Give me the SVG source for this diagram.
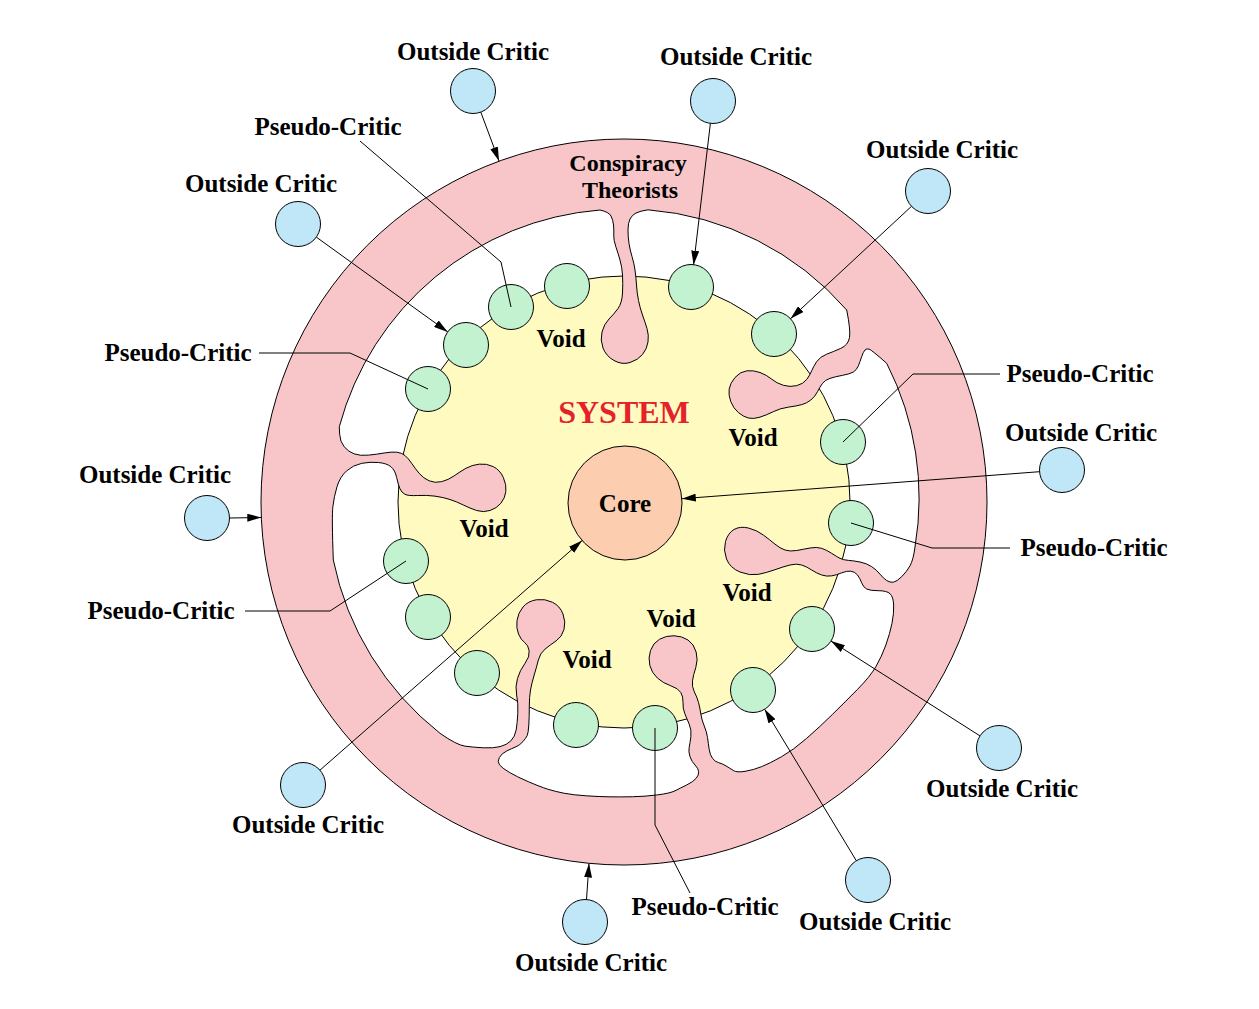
<svg xmlns="http://www.w3.org/2000/svg" width="1259" height="1009" viewBox="0 0 1259 1009">
<style>
.t{font-family:"Liberation Serif","Times New Roman",serif;font-weight:bold;font-size:25px;fill:#000;text-anchor:middle}
.g{fill:#c3f2d1;stroke:#000;stroke-width:1}
.b{fill:#c0e7f8;stroke:#000;stroke-width:1}
.ln{fill:none;stroke:#000;stroke-width:1}
.ar{fill:none;stroke:#000;stroke-width:1;marker-end:url(#ah)}
</style>
<defs>
<marker id="ah" markerUnits="userSpaceOnUse" markerWidth="14" markerHeight="8" refX="14" refY="4" orient="auto"><path d="M0,0 L14,4 L0,8 Z" fill="#000"/></marker>
</defs>
<rect width="1259" height="1009" fill="#fff"/>
<g id="system">
<circle cx="624" cy="502" r="226" fill="#fffbc0" stroke="#000" stroke-width="1"/>
</g>
<g id="conspiracy-theorists">
<path fill="#f8c6c8" fill-rule="evenodd" stroke="#000" stroke-width="1" d="M261,502 A363,363 0 1 0 987,502 A363,363 0 1 0 261,502 Z
M648,209.8 A294,294 0 0 1 846.7,310
Q850.7,330 849.5,337.5 Q848.3,345 840.8,348.35 Q833.3,351.7 826.65,354.2 Q820,356.7 816.65,361.7 Q813.3,366.7 811.65,370.85 Q810,375 806.65,379.5 Q803.3,384 796.65,385.65 Q790,387.3 783.35,385.3 Q776.7,383.3 771.7,379.15 Q766.7,375 760,372.5 Q753.3,370 746.65,370.85 Q740,371.7 735,377.5 Q730,383.3 729.15,389.15 Q728.3,395 730.8,401.65 Q733.3,408.3 738.3,412.5 Q743.3,416.7 748.3,418 Q753.3,419.3 760,417.15 Q766.7,415 773.35,411.65 Q780,408.3 788.35,407.15 Q796.7,406 801.7,404.65 Q806.7,403.3 810.85,400 Q815,396.7 817.5,391.7 Q820,386.7 822.5,383.35 Q825,380 830,378.35 Q835,376.7 842.5,375.35 Q850,374 853.35,372 Q856.7,370 858.35,365.85 Q860,361.7 861.65,356.7 Q863.3,351.7 865,350 Q866.7,348.3 869.2,349.15 Q871.7,350 886.7,363.3
A296,296 0 0 1 915,547
Q913.3,560 910,565.85 Q906.7,571.7 901.7,576.7 Q896.7,581.7 893.35,582.2 Q890,582.7 886.65,580.5 Q883.3,578.3 880,574.15 Q876.7,570 871.7,566.65 Q866.7,563.3 860,562 Q853.3,560.7 848.3,560.35 Q843.3,560 840,558.35 Q836.7,556.7 831.7,553.35 Q826.7,550 821.7,548.35 Q816.7,546.7 810,548 Q803.3,549.3 796.65,550.5 Q790,551.7 785,550 Q780,548.3 775,544.15 Q770,540 763.35,535 Q756.7,530 748.35,528 Q740,526 734,529.5 Q728,533 725.5,541.5 Q723,550 726.5,559 Q730,568 740,572 Q750,576 758.35,574.35 Q766.7,572.7 775,569.7 Q783.3,566.7 790,565 Q796.7,563.3 801.7,565 Q806.7,566.7 811.7,570 Q816.7,573.3 821.7,575 Q826.7,576.7 831.7,575.85 Q836.7,575 841.7,572.85 Q846.7,570.7 850.85,571.2 Q855,571.7 857.5,575 Q860,578.3 861.65,582.8 Q863.3,587.3 866.65,589 Q870,590.7 878.35,590.7 Q886.7,590.7 890,593.7 Q893.3,596.7 893.65,605 Q894,613.3 892,623.3 Q890,633.3 885.85,645 Q881.7,656.7 875.85,666.7 Q870,676.7 857.5,689.35 Q845,702 832.5,714.35 Q820,726.7 806.65,738.35 Q793.3,750 781.65,756.65 Q770,763.3 761.65,766.65 Q753.3,770 745,771.35 Q736.7,772.7 733.35,770.5 Q730,768.3 726,765.9 Q722,763.5 718.5,762.6 Q715,761.7 712.5,758.35 Q710,755 709.15,749.15 Q708.3,743.3 707.5,737.5 Q706.7,731.7 704.2,725.85 Q701.7,720 700.85,714 Q700,708 698.5,702.5 Q697,697 694.35,691.85 Q691.7,686.7 692.5,680.85 Q693.3,675 695.8,667.5 Q698.3,660 696.15,652 Q694,644 688,640 Q682,636 674,635.75 Q666,635.5 659.5,639.25 Q653,643 650.5,650.5 Q648,658 649.85,665.5 Q651.7,673 657.5,678.15 Q663.3,683.3 670.8,685.8 Q678.3,688.3 680.8,692.5 Q683.3,696.7 683,702.5 Q682.7,708.3 684.7,713.3 Q686.7,718.3 689.2,724.15 Q691.7,730 690.85,736.65 Q690,743.3 689.15,747.5 Q688.3,751.7 690,756.7 Q691.7,761.7 695,765 Q698.3,768.3 698.65,771.65 Q699,775 696.15,778.35 Q693.3,781.7 686.65,785 Q680,788.3 675,790.8 Q670,793.3 657.5,794.9 Q645,796.5 632.5,796.75 Q620,797 610,796.85 Q600,796.7 586.65,795.85 Q573.3,795 564.15,793.25 Q555,791.5 547.5,789.1 Q540,786.7 528.35,781.7 Q516.7,776.7 509.35,772.35 Q502,768 499.5,764.85 Q497,761.7 499.35,757.5 Q501.7,753.3 506.85,750.9 Q512,748.5 516,746.75 Q520,745 523,741.5 Q526,738 527.15,735.65 Q528.3,733.3 528.8,725 Q529.3,716.7 529.3,706.7 Q529.3,696.7 530.5,690 Q531.7,683.3 534.2,675 Q536.7,666.7 538.35,660 Q540,653.3 545,649.15 Q550,645 556,641 Q562,637 564,629.5 Q566,622 563,614 Q560,606 552.5,602.25 Q545,598.5 536.5,599.75 Q528,601 523,607 Q518,613 517,620.5 Q516,628 518.5,634 Q521,640 524.65,642.5 Q528.3,645 529.15,650.85 Q530,656.7 525,663.35 Q520,670 517.5,678.35 Q515,686.7 516.65,695 Q518.3,703.3 517.8,713.3 Q517.3,723.3 516.15,730 Q515,736.7 510.85,740.85 Q506.7,745 500,746.65 Q493.3,748.3 483.3,747.8 Q473.3,747.3 465,746.15 Q456.7,745 440,733.3
A296,296 0 0 1 333.3,560
Q331.7,516.7 332.85,506.7 Q334,496.7 337,486.7 Q340,476.7 346.65,470.85 Q353.3,465 361.65,463.35 Q370,461.7 378.35,462.5 Q386.7,463.3 390.85,466.65 Q395,470 396.65,477.5 Q398.3,485 400,488.85 Q401.7,492.7 405,494.35 Q408.3,496 417.5,495.5 Q426.7,495 435,496.15 Q443.3,497.3 450,499.5 Q456.7,501.7 463.35,505 Q470,508.3 476.65,510.5 Q483.3,512.7 490,510.5 Q496.7,508.3 500.85,503.3 Q505,498.3 505.85,491.65 Q506.7,485 503.35,477.5 Q500,470 493.35,466.65 Q486.7,463.3 479.2,464.15 Q471.7,465 465.85,468.35 Q460,471.7 454.15,475.85 Q448.3,480 441.65,481.65 Q435,483.3 429.15,480.8 Q423.3,478.3 419.15,473.3 Q415,468.3 411.65,463.3 Q408.3,458.3 405,455.5 Q401.7,452.7 396.7,452.2 Q391.7,451.7 384.2,453 Q376.7,454.3 368.35,455.15 Q360,456 354.15,453.85 Q348.3,451.7 344.15,446.7 Q340,441.7 339.65,434.2 L339.3,426.7
A294,294 0 0 1 600,210
Q609,212 611,216 Q613,220 613.5,225 Q614,230 613.75,235 Q613.5,240 615.75,246.5 Q618,253 620,260 Q622,267 622.5,275 Q623,283 622.5,293 Q622,303 618,308.5 Q614,314 609,319 Q604,324 602,332 Q600,340 603,348 Q606,356 614,360.5 Q622,365 630,362.5 Q638,360 642.5,354.5 Q647,349 648,342 Q649,335 647,328.5 Q645,322 642.5,315 Q640,308 638.5,300.5 Q637,293 636.5,285 Q636,277 635,270 Q634,263 632,256.5 Q630,250 629,243.5 Q628,237 628,230 Q628,223 630,219 Q632,215 636,213 Q640,211 648,209.8 Z"/>
<text class="t" x="628" y="171" style="font-size:24px">Conspiracy</text>
<text class="t" x="630" y="198" style="font-size:24px">Theorists</text>
</g>
<g id="system-label"><text class="t" x="624" y="423" style="font-size:32px;fill:#e3222b">SYSTEM</text></g>
<g id="core">
<circle cx="625" cy="503" r="57" fill="#fdcdb0" stroke="#000" stroke-width="1"/>
<text class="t" x="625" y="512">Core</text>
</g>
<g id="voids">
<text class="t" x="561" y="347">Void</text>
<text class="t" x="753" y="446">Void</text>
<text class="t" x="484" y="537">Void</text>
<text class="t" x="747" y="601">Void</text>
<text class="t" x="671" y="627">Void</text>
<text class="t" x="587" y="668">Void</text>
</g>
<g id="members">
<circle id="m1" class="g" cx="567" cy="286" r="22.5"/>
<circle id="m2" class="g" cx="511" cy="307" r="22.5"/>
<circle id="m3" class="g" cx="466" cy="345" r="22.5"/>
<circle id="m4" class="g" cx="428" cy="389" r="22.5"/>
<circle id="m5" class="g" cx="691" cy="287" r="22.5"/>
<circle id="m6" class="g" cx="774" cy="334" r="22.5"/>
<circle id="m7" class="g" cx="843" cy="442" r="22.5"/>
<circle id="m8" class="g" cx="851" cy="523" r="22.5"/>
<circle id="m9" class="g" cx="406" cy="561" r="22.5"/>
<circle id="m10" class="g" cx="428" cy="617" r="22.5"/>
<circle id="m11" class="g" cx="477" cy="673" r="22.5"/>
<circle id="m12" class="g" cx="576" cy="725" r="22.5"/>
<circle id="m13" class="g" cx="655" cy="728" r="22.5"/>
<circle id="m14" class="g" cx="753" cy="690" r="22.5"/>
<circle id="m15" class="g" cx="812" cy="629" r="22.5"/>
</g>
<g id="connectors">
<line class="ar" x1="480.8" y1="112.1" x2="499" y2="161"/>
<line class="ar" x1="710.4" y1="123.3" x2="693.6" y2="264.7"/>
<line class="ar" x1="911.5" y1="206.3" x2="790.5" y2="318.7"/>
<line class="ar" x1="316.3" y1="237.1" x2="447.7" y2="331.9"/>
<line class="ar" x1="229.5" y1="518" x2="261.3" y2="517.5"/>
<line class="ar" x1="1039.6" y1="471.7" x2="681.8" y2="498.7"/>
<line class="ar" x1="319.9" y1="770.2" x2="582.1" y2="540.6"/>
<line class="ar" x1="586.5" y1="899.5" x2="589" y2="863.5"/>
<line class="ar" x1="856.3" y1="860.7" x2="764.7" y2="709.3"/>
<line class="ar" x1="980" y1="735.9" x2="831" y2="641.1"/>
<polyline class="ln" points="360,141 501,262 511,307"/>
<polyline class="ln" points="259,353 350,353 428,389"/>
<polyline class="ln" points="245,611 330,611 406,561"/>
<polyline class="ln" points="655,728 655,825 690,893"/>
<polyline class="ln" points="1010,548 932,548 851,523"/>
<polyline class="ln" points="1000,374 913,374 843,442"/>
</g>
<g id="oc1"><circle class="b" cx="473" cy="91" r="22.5"/><text class="t" x="473" y="60">Outside Critic</text></g>
<g id="oc2"><circle class="b" cx="713" cy="101" r="22.5"/><text class="t" x="736" y="65">Outside Critic</text></g>
<g id="oc3"><circle class="b" cx="928" cy="191" r="22.5"/><text class="t" x="942" y="158">Outside Critic</text></g>
<g id="oc4"><circle class="b" cx="298" cy="224" r="22.5"/><text class="t" x="261" y="192">Outside Critic</text></g>
<g id="oc5"><circle class="b" cx="207" cy="518" r="22.5"/><text class="t" x="155" y="483">Outside Critic</text></g>
<g id="oc6"><circle class="b" cx="1062" cy="470" r="22.5"/><text class="t" x="1081" y="441">Outside Critic</text></g>
<g id="oc7"><circle class="b" cx="303" cy="785" r="22.5"/><text class="t" x="308" y="833">Outside Critic</text></g>
<g id="oc8"><circle class="b" cx="585" cy="922" r="22.5"/><text class="t" x="591" y="971">Outside Critic</text></g>
<g id="oc9"><circle class="b" cx="868" cy="880" r="22.5"/><text class="t" x="875" y="930">Outside Critic</text></g>
<g id="oc10"><circle class="b" cx="999" cy="748" r="22.5"/><text class="t" x="1002" y="797">Outside Critic</text></g>
<g id="pc1"><text class="t" x="328" y="135">Pseudo-Critic</text></g>
<g id="pc2"><text class="t" x="178" y="361">Pseudo-Critic</text></g>
<g id="pc3"><text class="t" x="161" y="619">Pseudo-Critic</text></g>
<g id="pc4"><text class="t" x="705" y="915">Pseudo-Critic</text></g>
<g id="pc5"><text class="t" x="1094" y="556">Pseudo-Critic</text></g>
<g id="pc6"><text class="t" x="1080" y="382">Pseudo-Critic</text></g>
</svg>
